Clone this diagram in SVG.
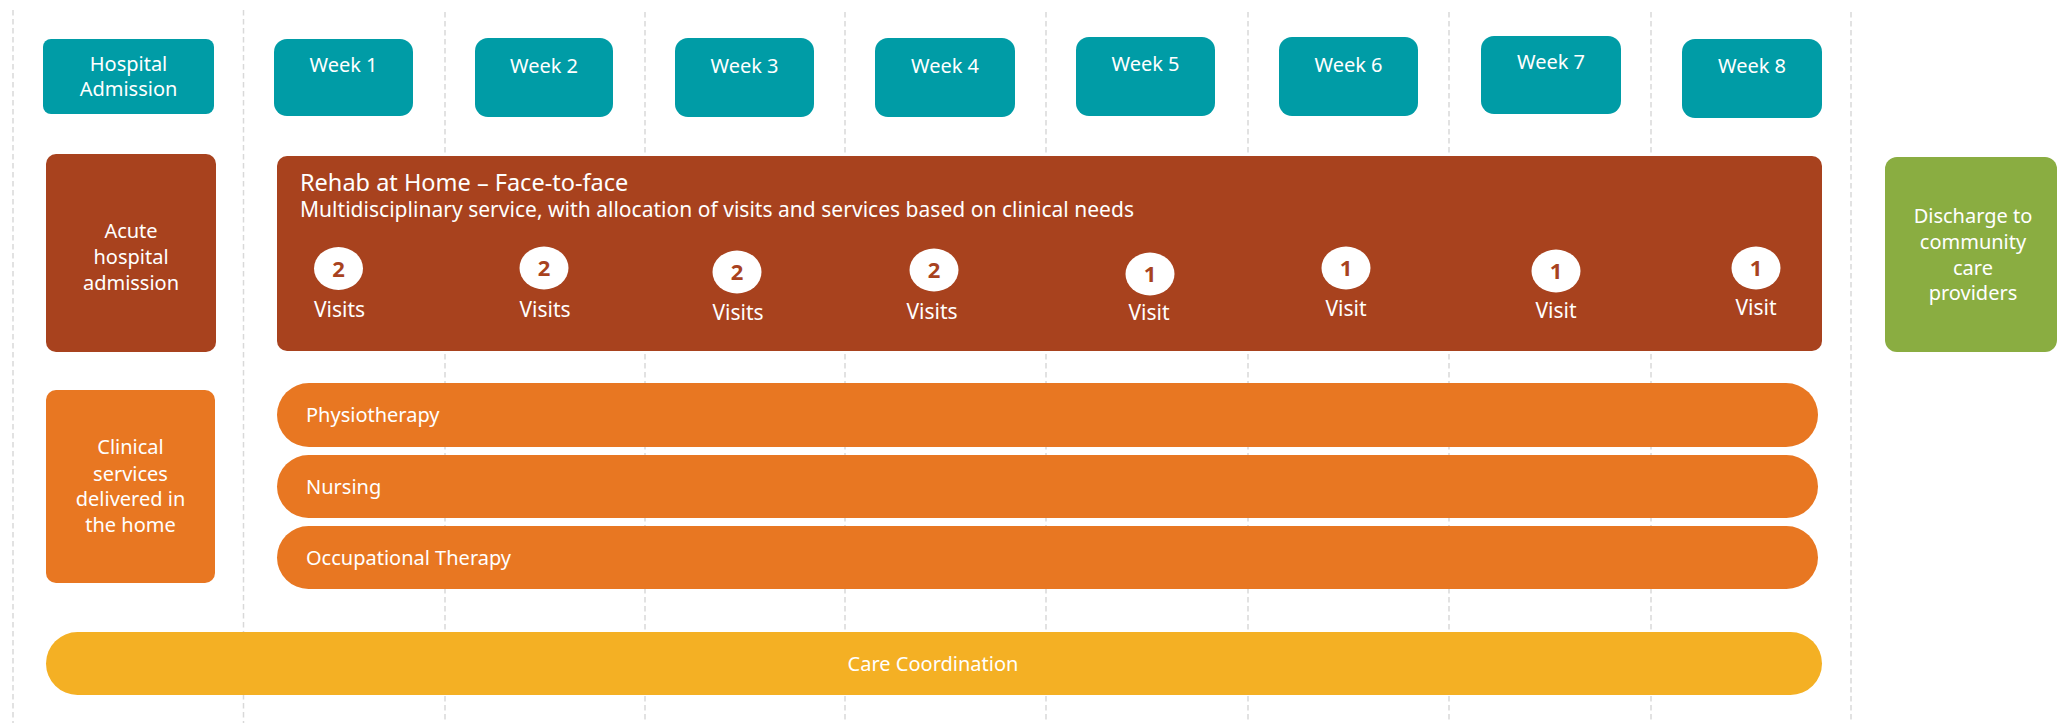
<svg xmlns="http://www.w3.org/2000/svg" width="2062" height="727" viewBox="0 0 2062 727">
<style>
.grid{stroke:#d9d9d9;stroke-width:1.5;stroke-dasharray:5.5 3.5;fill:none}
.teal{fill:#009ca6}
.brown{fill:#a8421e}
.orange{fill:#e87722}
.yellow{fill:#f4b024}
.green{fill:#8aad41}
.badge{fill:#ffffff}
text{font-family:"Noto Sans","Open Sans","DejaVu Sans",sans-serif;fill:#ffffff}
.t20{font-size:20px}
.c{text-anchor:middle}
.title{font-size:23.5px}
.sub{font-size:21px}
.visit{font-size:21px;text-anchor:middle}
.num{font-size:22px;font-weight:bold;fill:#a8421e;text-anchor:middle}
</style>
<rect width="2062" height="727" fill="#ffffff"/>
<g id="gridlines">
<line class="grid" x1="13" y1="10" x2="13" y2="723"/>
<line class="grid" x1="243.5" y1="10" x2="243.5" y2="723"/>
<line class="grid" x1="445" y1="12" x2="445" y2="723"/>
<line class="grid" x1="645" y1="12" x2="645" y2="723"/>
<line class="grid" x1="845" y1="12" x2="845" y2="723"/>
<line class="grid" x1="1046" y1="12" x2="1046" y2="723"/>
<line class="grid" x1="1248" y1="12" x2="1248" y2="723"/>
<line class="grid" x1="1449" y1="12" x2="1449" y2="723"/>
<line class="grid" x1="1651" y1="12" x2="1651" y2="723"/>
<line class="grid" x1="1851" y1="12" x2="1851" y2="723"/>
</g>
<g id="connectors"></g>
<g id="hospital-admission">
<rect class="teal" x="43" y="39" width="171" height="75" rx="8"/>
<text class="t20 c" x="128.5" y="71">Hospital</text>
<text class="t20 c" x="128.5" y="96">Admission</text>
</g>
<g id="week1"><rect class="teal" x="274" y="39" width="139" height="77" rx="13"/><text class="t20 c" x="343.5" y="72">Week 1</text></g>
<g id="week2"><rect class="teal" x="475" y="38" width="138" height="79" rx="13"/><text class="t20 c" x="544" y="73">Week 2</text></g>
<g id="week3"><rect class="teal" x="675" y="38" width="139" height="79" rx="13"/><text class="t20 c" x="744.5" y="73">Week 3</text></g>
<g id="week4"><rect class="teal" x="875" y="38" width="140" height="79" rx="13"/><text class="t20 c" x="945" y="73">Week 4</text></g>
<g id="week5"><rect class="teal" x="1076" y="37" width="139" height="79" rx="13"/><text class="t20 c" x="1145.5" y="71">Week 5</text></g>
<g id="week6"><rect class="teal" x="1279" y="37" width="139" height="79" rx="13"/><text class="t20 c" x="1348.5" y="72">Week 6</text></g>
<g id="week7"><rect class="teal" x="1481" y="36" width="140" height="78" rx="13"/><text class="t20 c" x="1551" y="69">Week 7</text></g>
<g id="week8"><rect class="teal" x="1682" y="39" width="140" height="79" rx="13"/><text class="t20 c" x="1752" y="73">Week 8</text></g>
<g id="acute-admission">
<rect class="brown" x="46" y="154" width="170" height="198" rx="10"/>
<text class="t20 c" x="131" y="238">Acute</text>
<text class="t20 c" x="131" y="264">hospital</text>
<text class="t20 c" x="131" y="290">admission</text>
</g>
<g id="rehab-at-home">
<rect class="brown" x="277" y="156" width="1545" height="195" rx="10"/>
<text class="title" x="300" y="191">Rehab at Home – Face-to-face</text>
<text class="sub" x="300" y="217" textLength="834" lengthAdjust="spacing">Multidisciplinary service, with allocation of visits and services based on clinical needs</text>
<ellipse class="badge" cx="338.5" cy="268.5" rx="24.5" ry="21.5"/><text class="num" x="338.5" y="276.5">2</text><text class="visit" x="339.5" y="317">Visits</text>
<ellipse class="badge" cx="544" cy="268" rx="24.5" ry="21.5"/><text class="num" x="544" y="276">2</text><text class="visit" x="545" y="317">Visits</text>
<ellipse class="badge" cx="737" cy="272" rx="24.5" ry="21.5"/><text class="num" x="737" y="280">2</text><text class="visit" x="738" y="320">Visits</text>
<ellipse class="badge" cx="934" cy="270" rx="24.5" ry="21.5"/><text class="num" x="934" y="278">2</text><text class="visit" x="932" y="319">Visits</text>
<ellipse class="badge" cx="1150" cy="274" rx="24.5" ry="21.5"/><text class="num" x="1150" y="282">1</text><text class="visit" x="1149" y="320">Visit</text>
<ellipse class="badge" cx="1346" cy="268" rx="24.5" ry="21.5"/><text class="num" x="1346" y="276">1</text><text class="visit" x="1346" y="316">Visit</text>
<ellipse class="badge" cx="1556" cy="271" rx="24.5" ry="21.5"/><text class="num" x="1556" y="279">1</text><text class="visit" x="1556" y="318">Visit</text>
<ellipse class="badge" cx="1756" cy="268" rx="24.5" ry="21.5"/><text class="num" x="1756" y="276">1</text><text class="visit" x="1756" y="315">Visit</text>
</g>
<g id="discharge">
<rect class="green" x="1885" y="157" width="172" height="195" rx="12"/>
<text class="t20 c" x="1973" y="223">Discharge to</text>
<text class="t20 c" x="1973" y="249">community</text>
<text class="t20 c" x="1973" y="275">care</text>
<text class="t20 c" x="1973" y="300">providers</text>
</g>
<g id="clinical-services">
<rect class="orange" x="46" y="390" width="169" height="193" rx="10"/>
<text class="t20 c" x="130.5" y="454">Clinical</text>
<text class="t20 c" x="130.5" y="481">services</text>
<text class="t20 c" x="130.5" y="506">delivered in</text>
<text class="t20 c" x="130.5" y="532">the home</text>
</g>
<g id="physiotherapy"><rect class="orange" x="277" y="383" width="1541" height="64" rx="32"/><text class="t20" x="306" y="422">Physiotherapy</text></g>
<g id="nursing"><rect class="orange" x="277" y="455" width="1541" height="63" rx="31.5"/><text class="t20" x="306" y="494">Nursing</text></g>
<g id="occupational-therapy"><rect class="orange" x="277" y="526" width="1541" height="63" rx="31.5"/><text class="t20" x="306" y="565">Occupational Therapy</text></g>
<g id="care-coordination"><rect class="yellow" x="46" y="632" width="1776" height="63" rx="31.5"/><text class="t20 c" x="933" y="671">Care Coordination</text></g>
</svg>
